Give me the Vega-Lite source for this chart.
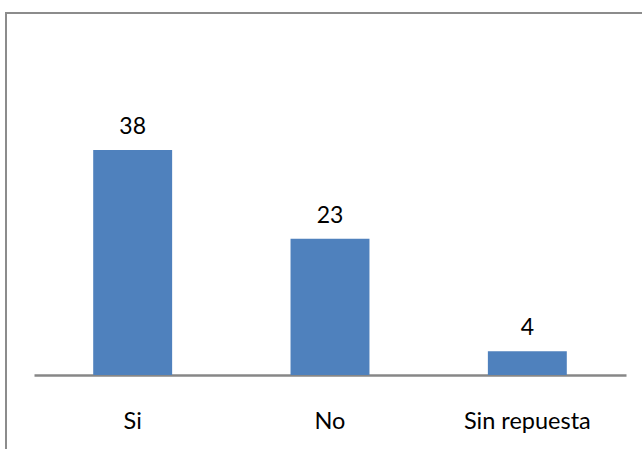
{
  "$schema": "https://vega.github.io/schema/vega-lite/v6.json",
  "autosize": {"type": "none"},
  "padding": {"left": 6, "top": 13, "right": 0, "bottom": 0},
  "width": 640,
  "height": 440,
  "background": "white",
  "config": {
    "view": {"stroke": "#8c8c8c", "strokeWidth": 2},
    "font": "Lato"
  },
  "data": {
    "values": [
      {"categoria": "Si", "valor": 38},
      {"categoria": "No", "valor": 23},
      {"categoria": "Sin repuesta", "valor": 4}
    ]
  },
  "encoding": {
    "x": {
      "field": "categoria",
      "type": "nominal",
      "sort": null,
      "scale": {"range": [28, 620], "paddingInner": 0.6, "paddingOuter": 0.3},
      "axis": {
        "title": null,
        "orient": "bottom",
        "offset": -78,
        "labelAngle": 0,
        "ticks": false,
        "domainColor": "#878787",
        "domainWidth": 2.5,
        "labelFont": "Lato",
        "labelFontSize": 23.5,
        "labelColor": "#000000",
        "labelPadding": 34,
        "labelBaseline": "top"
      }
    },
    "y": {
      "field": "valor",
      "type": "quantitative",
      "scale": {"domain": [0, 50], "range": [362, 66], "nice": false},
      "axis": null
    }
  },
  "layer": [
    {"mark": {"type": "bar", "color": "#4F81BD"}},
    {
      "mark": {"type": "text", "baseline": "alphabetic", "dy": -16, "fontSize": 23, "font": "Lato", "color": "#000000"},
      "encoding": {"text": {"field": "valor", "type": "quantitative"}}
    }
  ]
}
